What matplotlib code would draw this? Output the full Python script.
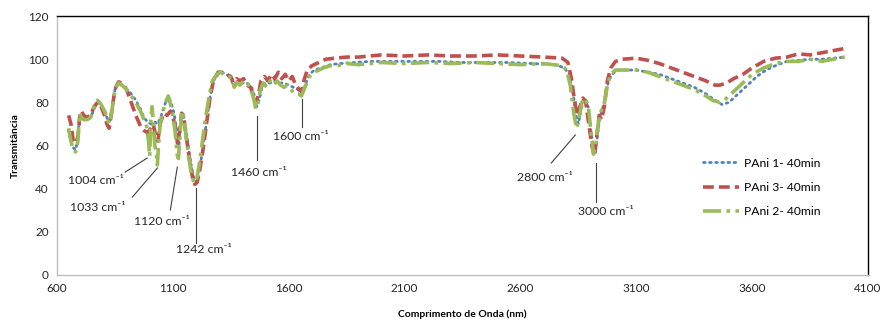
import matplotlib
matplotlib.use("Agg")
import matplotlib.pyplot as plt

plt.rcParams["font.family"] = ["Lato", "DejaVu Sans"]

# PAni 1 - 40min
wn_p1 = [650, 660, 670, 680, 690, 697, 705, 715, 730, 745, 760, 775, 790, 805, 815, 825, 835, 850, 865, 880,
         900, 920, 940, 960, 975, 990, 1005, 1020, 1035, 1050, 1065, 1080, 1092, 1105, 1118, 1126, 1138, 1148,
         1160, 1175, 1190, 1202, 1215, 1230, 1245, 1260, 1275, 1295, 1310, 1330, 1350, 1365, 1380, 1400, 1420,
         1440, 1452, 1462, 1472, 1485, 1500, 1520, 1540, 1560, 1580, 1600, 1620, 1640, 1655, 1670, 1690, 1710,
         1740, 1780, 1820, 1880, 1950, 2050, 2150, 2250, 2350, 2450, 2550, 2650, 2750, 2790, 2810, 2825, 2840,
         2850, 2862, 2878, 2892, 2905, 2918, 2928, 2940, 2952, 2965, 2980, 2995, 3020, 3060, 3100, 3150, 3200,
         3250, 3300, 3350, 3400, 3440, 3470, 3500, 3540, 3580, 3620, 3660, 3700, 3750, 3800, 3850, 3900, 3950,
         4000]
t_p1 = [67, 62, 59, 58, 63, 74, 73, 72, 72, 73, 77, 80, 79, 76, 73, 71, 75, 86, 89, 88,
        86, 84, 81, 77, 73, 71, 70, 71, 70, 74, 79, 83, 80, 75, 66, 60, 74, 73,
        65, 53, 45, 43, 49, 59, 71, 82, 90, 93, 94, 93, 92, 89, 89, 89, 89,
        87, 83, 78, 81, 87, 89, 89, 90, 89, 89, 88, 87, 86, 84, 88, 93, 95,
        96, 97.5, 98, 98.5, 99, 99, 99, 99, 98.5, 98.5, 98.5, 98, 97.5, 96, 93, 86, 74,
        70, 77, 82, 78, 66, 57, 61, 71, 76, 82, 90, 93, 95, 95, 95, 94, 93,
        91, 89, 87, 84, 81, 79, 80, 84, 88, 92, 95, 97, 99, 99.5, 100, 100, 100.5,
        101]

# PAni 3 - 40min
wn_p3 = [650, 660, 670, 680, 690, 697, 705, 715, 730, 745, 760, 775, 790, 805, 815, 825, 835, 850, 865, 880,
         900, 920, 940, 960, 975, 990, 1005, 1015, 1025, 1035, 1045, 1060, 1075, 1090, 1100, 1112, 1120, 1128,
         1138, 1145, 1155, 1170, 1185, 1195, 1205, 1215, 1230, 1245, 1260, 1275, 1295, 1310, 1330, 1350, 1360,
         1375, 1390, 1405, 1420, 1435, 1450, 1460, 1470, 1480, 1495, 1510, 1525, 1540, 1555, 1570, 1585, 1600,
         1615, 1630, 1645, 1655, 1665, 1680, 1700, 1720, 1740, 1760, 1800, 1850, 1900, 1950, 2000, 2100, 2200,
         2300, 2400, 2500, 2600, 2700, 2780, 2805, 2820, 2832, 2845, 2857, 2870, 2882, 2895, 2908, 2920, 2930,
         2940, 2950, 2962, 2975, 2990, 3010, 3040, 3100, 3150, 3200, 3250, 3300, 3350, 3400, 3440, 3460, 3490,
         3520, 3560, 3600, 3650, 3700, 3750, 3800, 3850, 3900, 3950, 4000]
t_p3 = [74, 70, 62, 61, 64, 72, 76, 74, 73, 74, 78, 80, 78, 74, 70, 68, 75, 86, 89.5, 89,
        86, 80, 74, 69, 67, 66, 68, 70, 65, 62, 70, 75, 74, 76, 73, 68, 61, 66,
        75, 74, 66, 55, 45, 42, 43, 48, 58, 70, 82, 90, 94, 94, 93, 92, 89,
        91, 90, 91, 88, 87, 82, 80, 84, 90, 92, 90, 93, 91, 94, 91, 93, 90,
        92, 88, 86, 85, 90, 95, 97, 98, 99, 100, 100.5, 101, 101, 101.5, 102, 101.5, 102,
        101.5, 101.5, 102, 101.5, 101, 100.5, 98.5, 91, 82, 74, 78, 82, 80, 70, 60, 55, 65,
        74, 72, 78, 90, 96, 99, 100, 100.5, 99.5, 98, 96, 94, 92, 90, 88, 88, 89,
        91, 93, 96, 99, 100.5, 101, 102.5, 102, 103, 104, 105]

# PAni 2 - 40min
wn_p2 = [650, 660, 670, 680, 690, 697, 705, 715, 730, 745, 760, 775, 790, 805, 815, 825, 835, 850, 865, 880,
         900, 920, 940, 960, 975, 985, 995, 1000, 1005, 1010, 1015, 1022, 1028, 1033, 1038, 1045, 1055, 1068,
         1080, 1090, 1100, 1110, 1118, 1124, 1130, 1138, 1145, 1155, 1165, 1178, 1190, 1200, 1212, 1225, 1240,
         1255, 1270, 1290, 1305, 1320, 1340, 1355, 1365, 1375, 1390, 1405, 1420, 1435, 1448, 1458, 1468, 1478,
         1490, 1505, 1520, 1535, 1550, 1565, 1580, 1595, 1610, 1625, 1640, 1655, 1670, 1690, 1710, 1730, 1750,
         1780, 1810, 1850, 1900, 1950, 2000, 2100, 2200, 2300, 2400, 2500, 2600, 2700, 2780, 2800, 2815, 2830,
         2842, 2852, 2865, 2880, 2893, 2905, 2915, 2925, 2935, 2948, 2960, 2975, 2990, 3010, 3050, 3100, 3150,
         3200, 3250, 3300, 3350, 3400, 3430, 3460, 3480, 3520, 3560, 3600, 3650, 3700, 3750, 3800, 3850, 3900,
         3950, 4000]
t_p2 = [68, 62, 58, 57, 62, 75, 73, 72, 72, 73, 78, 81, 79, 76, 73, 70, 75, 86, 89, 88,
        86, 83, 80, 76, 72, 70, 62, 55, 72, 78, 72, 60, 57, 51, 60, 70, 75, 80,
        83, 79, 74, 66, 56, 54, 64, 76, 74, 66, 57, 48, 43, 43, 50, 60, 72,
        82, 90, 93, 94, 93, 92, 91, 87, 89, 88, 90, 89, 87, 82, 77, 80, 86,
        89, 87, 90, 88, 90, 88, 87, 88, 86, 84, 84, 83, 87, 92, 94, 95, 96,
        97, 97, 98, 97.5, 98, 98.5, 98, 98.5, 98, 98.5, 98, 97.5, 98, 97, 95, 88, 75,
        68, 72, 80, 82, 78, 66, 56, 60, 70, 76, 78, 88, 93, 95, 95, 95, 94,
        92, 90, 88, 86, 83, 81, 80, 81, 85, 89, 93, 96, 98, 99, 99, 100, 99,
        100, 101]

labels = ["PAni 1- 40min", "PAni 3- 40min", "PAni 2- 40min"]
colors = ["#4F81BD", "#C0504D", "#9BBB59"]

x_ticks = [600, 1100, 1600, 2100, 2600, 3100, 3600, 4100]
y_ticks = [0, 20, 40, 60, 80, 100, 120]

# band annotations: label, line start, line end, text position (data coords)
bands = [
    ("1004", (894, 47.7), (989, 54.2), (769, 44.0)),
    ("1033", (925, 36.1), (1033, 49.6), (777, 31.5)),
    ("1120", (1089, 30.1), (1119, 50.0), (1054, 24.6)),
    ("1242", (1201, 14.8), (1201, 40.3), (1232, 11.6)),
    ("1460", (1465, 53.3), (1465, 73.6), (1470, 47.7)),
    ("1600", (1656, 68.6), (1656, 81.5), (1651, 64.0)),
    ("2800", (2733, 51.9), (2837, 64.9), (2707, 45.0)),
    ("3000", (2924, 34.0), (2924, 52.0), (2967, 29.2)),
]

fig = plt.figure(figsize=(8.83, 3.22), dpi=100)
ax = fig.add_axes([0.0646, 0.146, 0.9184, 0.804])

ax.plot(wn_p1, t_p1, color=colors[0], lw=2.0, linestyle=(0, (0.6, 1.6)),
        dash_capstyle="round", label=labels[0])
ax.plot(wn_p3, t_p3, color=colors[1], lw=2.6, linestyle=(0, (3.0, 1.4)),
        label=labels[1])
ax.plot(wn_p2, t_p2, color=colors[2], lw=2.6, linestyle=(0, (5.0, 1.5, 1.0, 1.5)),
        label=labels[2])

for lab, p0, p1, pt in bands:
    ax.plot([p0[0], p1[0]], [p0[1], p1[1]], color="#404040", lw=0.8)
    ax.text(pt[0], pt[1], lab + " cm\u207b\u00b9", ha="center", va="center",
            fontsize=8.8, color="#262626", family=["Lato", "DejaVu Sans"])

ax.set_xlim(600, 4100)
ax.set_ylim(0, 120)
ax.set_xticks(x_ticks)
ax.set_yticks(y_ticks)
ax.tick_params(length=0, labelsize=8.5, colors="#262626", pad=6)

for side in ("top", "right"):
    ax.spines[side].set_color("#000000")
    ax.spines[side].set_linewidth(1.0)
for side in ("left", "bottom"):
    ax.spines[side].set_color("#BFBFBF")
    ax.spines[side].set_linewidth(1.0)

ax.set_xlabel("Comprimento de Onda (nm)", fontsize=7.5, fontweight="bold", labelpad=11)
ax.set_ylabel("Transmitância", fontsize=7.5, fontweight="bold", labelpad=6)

leg = ax.legend(loc="upper left", bbox_to_anchor=(0.783, 0.495), frameon=False,
                fontsize=8.7, handlelength=3.0, labelspacing=1.1, handletextpad=0.4)

fig.savefig("out.png", dpi=100)
